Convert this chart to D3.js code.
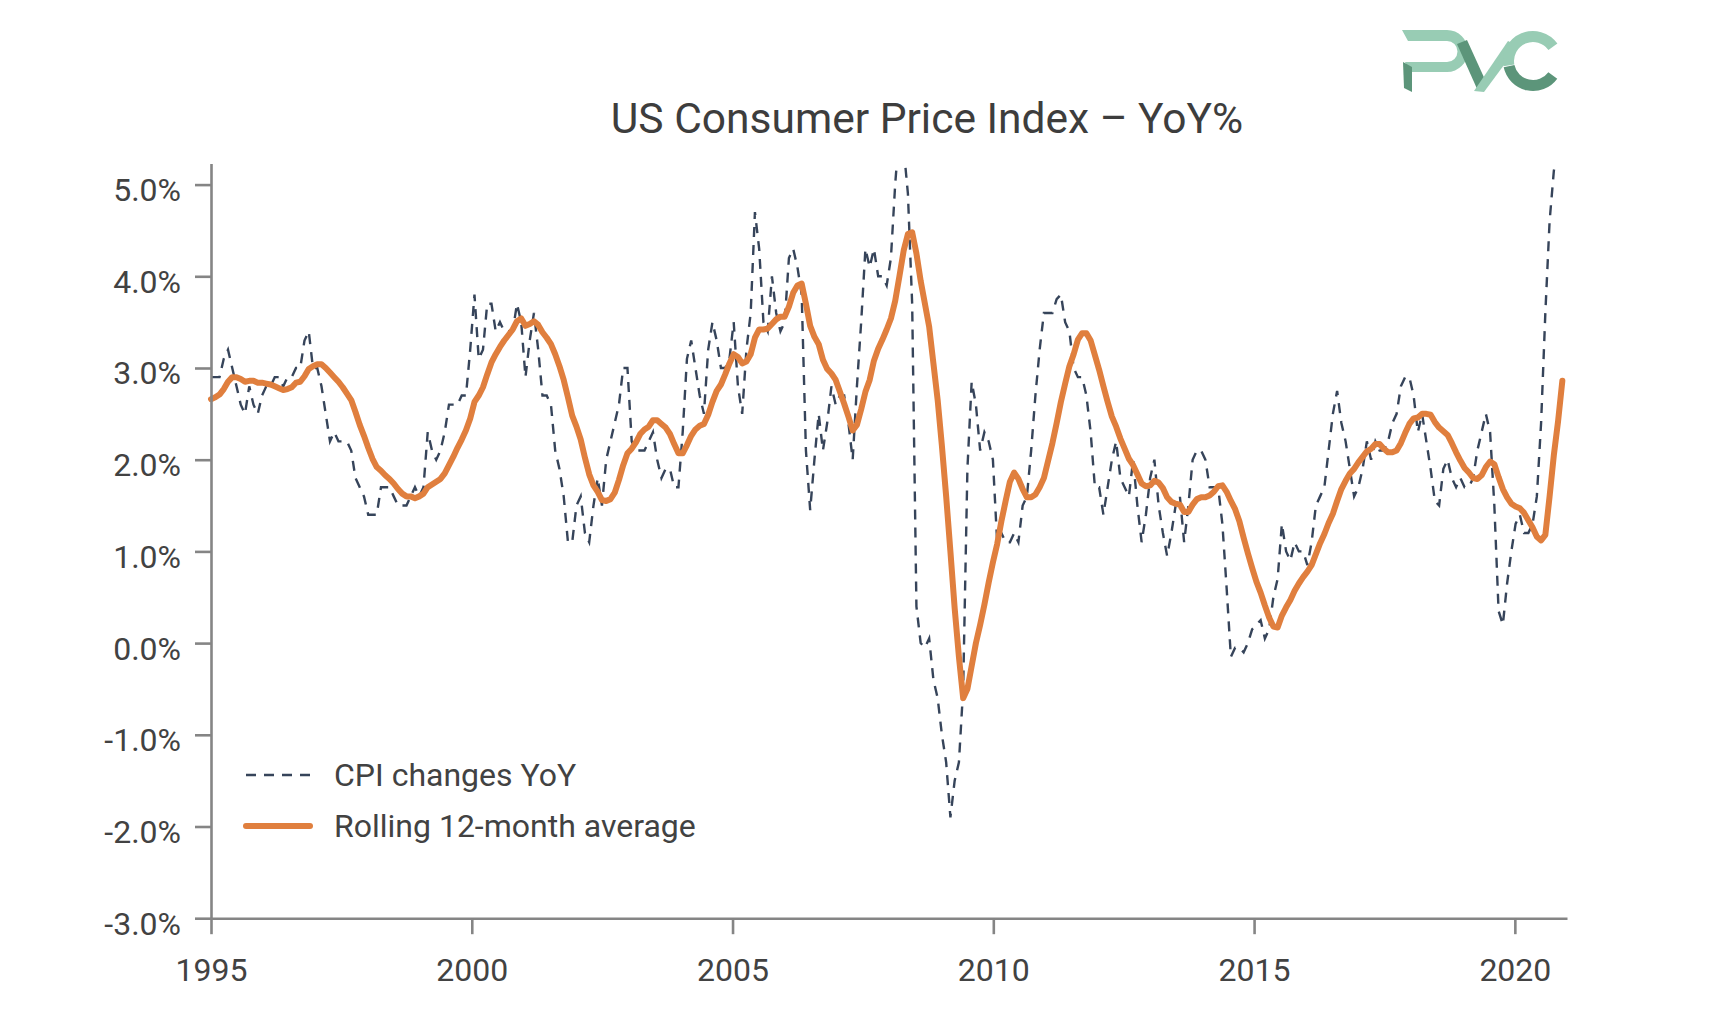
<!DOCTYPE html>
<html><head><meta charset="utf-8">
<script src="https://cdn.jsdelivr.net/npm/d3@7"></script>
<style>
body{margin:0;background:#fff}
text{font-family:Roboto,"Noto Sans",sans-serif}
</style>
</head><body>
<svg id="chart" width="1724" height="1022"></svg>
<script>
// ---------------- data ----------------
const xTickYears = [1995, 2000, 2005, 2010, 2015, 2020];
const yTickValues = [-3, -2, -1, 0, 1, 2, 3, 4, 5];
const seriesNames = ["CPI changes YoY", "Rolling 12-month average"];
const titleText = "US Consumer Price Index \u2013 YoY%";
const firstYear = 1995;          // first monthly point (Jan 1995)
const monthStep = 0.08148;       // spacing of monthly points on the source's year axis

// CPI YoY %, monthly, Jan 1995 - Jul 2021
const cpiYoY = [
  2.9, 2.9, 2.9, 3.1, 3.2, 3.0, 2.8, 2.6, 2.5, 2.8, 2.6, 2.5,
  2.7, 2.8, 2.8, 2.9, 2.9, 2.8, 2.9, 2.9, 3.0, 3.0, 3.3, 3.4,
  3.0, 3.0, 2.8, 2.5, 2.2, 2.3, 2.2, 2.2, 2.2, 2.1, 1.8, 1.7,
  1.6, 1.4, 1.4, 1.4, 1.7, 1.7, 1.7, 1.6, 1.5, 1.5, 1.5, 1.6,
  1.7, 1.6, 1.7, 2.3, 2.1, 2.0, 2.1, 2.3, 2.6, 2.6, 2.6, 2.7,
  2.7, 3.2, 3.8, 3.1, 3.2, 3.7, 3.7, 3.4, 3.5, 3.4, 3.4, 3.4,
  3.7, 3.5, 2.9, 3.3, 3.6, 3.2, 2.7, 2.7, 2.6, 2.1, 1.9, 1.6,
  1.1, 1.1, 1.5, 1.6, 1.2, 1.1, 1.5, 1.8, 1.5, 2.0, 2.2, 2.4,
  2.6, 3.0, 3.0, 2.2, 2.1, 2.1, 2.1, 2.2, 2.3, 2.0, 1.8, 1.9,
  1.9, 1.7, 1.7, 2.3, 3.1, 3.3, 3.0, 2.7, 2.5, 3.2, 3.5, 3.3,
  3.0, 3.0, 3.1, 3.5, 2.8, 2.5, 3.2, 3.6, 4.7, 4.3, 3.5, 3.4,
  4.0, 3.6, 3.4, 3.5, 4.2, 4.3, 4.1, 3.8, 2.1, 1.45, 2.0, 2.5,
  2.1, 2.4, 2.8, 2.6, 2.7, 2.7, 2.4, 2.0, 2.8, 3.5, 4.3, 4.1,
  4.3, 4.0, 4.0, 3.9, 4.2, 5.0, 5.6, 5.4, 4.9, 3.7, 0.4, 0.0,
  -0.05, 0.05, -0.4, -0.6, -1.0, -1.3, -1.9, -1.5, -1.3, -0.5, 1.9, 2.85,
  2.6, 2.1, 2.3, 2.2, 2.0, 1.1, 1.2, 1.1, 1.1, 1.2, 1.1, 1.5,
  1.6, 2.1, 2.7, 3.2, 3.6, 3.6, 3.6, 3.75, 3.8, 3.5, 3.4, 3.0,
  2.9, 2.9, 2.7, 2.3, 1.7, 1.7, 1.4, 1.7, 2.0, 2.2, 1.8, 1.7,
  1.6, 2.0, 1.5, 1.1, 1.4, 1.8, 2.0, 1.5, 1.2, 0.95, 1.2, 1.5,
  1.6, 1.1, 1.5, 2.0, 2.1, 2.1, 2.0, 1.7, 1.7, 1.7, 1.3, 0.6,
  -0.15, -0.05, -0.05, -0.1, 0.0, 0.15, 0.2, 0.25, 0.05, 0.15, 0.5, 0.7,
  1.3, 1.0, 0.9, 1.1, 1.0, 1.0, 0.85, 1.1, 1.5, 1.6, 1.7, 2.1,
  2.5, 2.75, 2.4, 2.2, 1.9, 1.6, 1.7, 1.9, 2.2, 2.0, 2.2, 2.1,
  2.1, 2.2, 2.4, 2.5, 2.8, 2.9, 2.9, 2.7, 2.3, 2.5, 2.2, 1.9,
  1.55, 1.5, 1.9, 2.0, 1.8, 1.7, 1.8, 1.7, 1.7, 1.8, 2.1, 2.3,
  2.5, 2.3, 1.5, 0.35, 0.2, 0.65, 1.0, 1.3, 1.4, 1.2, 1.2, 1.3,
  1.6, 2.4, 3.6, 4.6, 5.15, 5.4, 5.4
];

// Rolling 12-month average %, monthly, Jan 1995 - Jul 2021
const rolling12 = [
  2.66, 2.68, 2.71, 2.77, 2.85, 2.90, 2.90, 2.88, 2.85, 2.86, 2.86, 2.84,
  2.84, 2.83, 2.82, 2.80, 2.78, 2.76, 2.77, 2.79, 2.84, 2.85, 2.91, 2.99,
  3.02, 3.04, 3.04, 3.00, 2.95, 2.90, 2.85, 2.79, 2.72, 2.65, 2.52, 2.38,
  2.26, 2.13, 2.01, 1.92, 1.88, 1.83, 1.79, 1.74, 1.68, 1.63, 1.60, 1.60,
  1.58, 1.60, 1.63, 1.70, 1.73, 1.76, 1.79, 1.85, 1.94, 2.03, 2.13, 2.22,
  2.32, 2.45, 2.63, 2.70, 2.79, 2.93, 3.06, 3.15, 3.23, 3.30, 3.36, 3.42,
  3.51, 3.54, 3.46, 3.48, 3.51, 3.47, 3.39, 3.33, 3.26, 3.15, 3.02, 2.87,
  2.68, 2.48, 2.36, 2.22, 2.02, 1.84, 1.72, 1.65, 1.56, 1.55, 1.57, 1.64,
  1.78, 1.94, 2.07, 2.12, 2.19, 2.28, 2.33, 2.36, 2.43, 2.43, 2.39, 2.35,
  2.28, 2.17, 2.07, 2.07, 2.16, 2.26, 2.33, 2.37, 2.39, 2.49, 2.63, 2.75,
  2.82, 2.93, 3.05, 3.15, 3.12, 3.05, 3.07, 3.15, 3.33, 3.42, 3.42, 3.43,
  3.48, 3.53, 3.56, 3.56, 3.67, 3.82, 3.90, 3.92, 3.70, 3.46, 3.34, 3.26,
  3.09, 2.99, 2.94, 2.87, 2.74, 2.61, 2.47, 2.32, 2.38, 2.55, 2.74, 2.87,
  3.08, 3.21, 3.31, 3.42, 3.54, 3.73, 4.00, 4.28, 4.46, 4.48, 4.25, 3.95,
  3.70, 3.45, 3.05, 2.65, 2.15, 1.60, 1.00, 0.38, -0.15, -0.60, -0.50, -0.25,
  0.00, 0.20, 0.42, 0.66, 0.88, 1.08, 1.33, 1.55, 1.76, 1.86, 1.79, 1.68,
  1.59, 1.59, 1.62, 1.70, 1.80, 1.99, 2.18, 2.40, 2.63, 2.83, 3.02, 3.15,
  3.31, 3.38, 3.38, 3.30, 3.14, 2.98, 2.80, 2.63, 2.47, 2.36, 2.23, 2.12,
  2.01, 1.94, 1.84, 1.74, 1.71, 1.72, 1.77, 1.75, 1.69, 1.59, 1.54, 1.52,
  1.51, 1.43, 1.43, 1.51, 1.57, 1.59, 1.59, 1.61, 1.65, 1.71, 1.72, 1.65,
  1.55, 1.46, 1.33, 1.15, 0.98, 0.82, 0.67, 0.55, 0.41, 0.28, 0.18, 0.17,
  0.30, 0.39, 0.47, 0.57, 0.65, 0.72, 0.78, 0.85, 0.97, 1.09, 1.19, 1.31,
  1.41, 1.55, 1.68, 1.77, 1.85, 1.90, 1.97, 2.03, 2.09, 2.12, 2.17, 2.17,
  2.12, 2.08, 2.08, 2.10, 2.18, 2.29, 2.39, 2.45, 2.46, 2.50, 2.50, 2.49,
  2.41, 2.35, 2.31, 2.27, 2.18, 2.08, 1.99, 1.91, 1.86, 1.80, 1.79, 1.83,
  1.92, 1.98, 1.95, 1.81, 1.68, 1.59, 1.52, 1.49, 1.47, 1.42, 1.34, 1.26,
  1.16, 1.12, 1.18, 1.60, 2.05, 2.42, 2.86
];

// ---------------- chart ----------------
const svg = d3.select("#chart");
const W = 1724, H = 1022;
const margin = {left: 211, right: W - 1567, top: 163.5, bottom: H - 918.2};

const x = d3.scaleLinear().domain([1995, 2021]).range([margin.left, W - margin.right]);
const y = d3.scaleLinear().domain([-3, 5.23]).range([H - margin.bottom, margin.top]);

const colDash = "#36445a", colOrange = "#e07f3e", colAxis = "#858585", colText = "#424242";

svg.append("defs").append("clipPath").attr("id", "plotclip")
  .append("rect")
  .attr("x", x.range()[0] - 5).attr("y", y.range()[1])
  .attr("width", x.range()[1] - x.range()[0] + 10)
  .attr("height", y.range()[0] - y.range()[1]);

const tOf = i => firstYear + i * monthStep;
const line = d3.line().x((d, i) => x(tOf(i))).y(d => y(d));

const g = svg.append("g").attr("clip-path", "url(#plotclip)");
g.append("path").datum(cpiYoY)
  .attr("d", line).attr("fill", "none")
  .attr("stroke", colDash).attr("stroke-width", 2.4)
  .attr("stroke-dasharray", "10,8");
g.append("path").datum(rolling12)
  .attr("d", line).attr("fill", "none")
  .attr("stroke", colOrange).attr("stroke-width", 6)
  .attr("stroke-linejoin", "round").attr("stroke-linecap", "round");

// axes
const yAxis = d3.axisLeft(y).tickValues(yTickValues).tickSize(16).tickSizeOuter(0).tickPadding(14)
  .tickFormat(d => d.toFixed(1) + "%");
const xAxis = d3.axisBottom(x).tickValues(xTickYears).tickSize(16).tickSizeOuter(0).tickPadding(24)
  .tickFormat(d3.format("d"));

const gy = svg.append("g").attr("transform", `translate(${x.range()[0]},0)`).call(yAxis);
const gx = svg.append("g").attr("transform", `translate(0,${y.range()[0]})`).call(xAxis);
[gx, gy].forEach(a => {
  a.select(".domain").attr("stroke", colAxis).attr("stroke-width", 2.6);
  a.selectAll(".tick line").attr("stroke", colAxis).attr("stroke-width", 2.6);
  a.selectAll(".tick text").attr("fill", colText)
    .style("font-family", "Roboto, 'Noto Sans', sans-serif").style("font-size", "32px");
});
gy.selectAll(".tick text").attr("dy", "0.5em");

// title
svg.append("text").attr("x", 927).attr("y", 133).attr("text-anchor", "middle")
  .attr("fill", "#3d3d3d").style("font-size", "42.5px").text(titleText);

// legend
const leg = svg.append("g");
const legRows = [
  {name: seriesNames[0], y: 775, dash: "10,8", w: 2.4, c: colDash},
  {name: seriesNames[1], y: 826, dash: null, w: 6, c: colOrange}
];
legRows.forEach(r => {
  leg.append("line").attr("x1", 246).attr("x2", 310).attr("y1", r.y).attr("y2", r.y)
    .attr("stroke", r.c).attr("stroke-width", r.w)
    .attr("stroke-dasharray", r.dash).attr("stroke-linecap", r.dash ? "butt" : "round");
  leg.append("text").attr("x", 334).attr("y", r.y + 11).attr("fill", colText)
    .style("font-size", "32px").text(r.name);
});

// logo (PVC mark)
const logo = svg.append("g");
const light = "#98ccb4", dark = "#5c957a";
// P bowl
logo.append("path").attr("fill", light)
  .attr("d", "M1402,30 L1447,30 A21,21 0 0 1 1447,72 L1409,72 L1405,62 L1447,62 A10.5,10.5 0 0 0 1447,41 L1408,41 Z");
// P stem
logo.append("path").attr("fill", dark)
  .attr("d", "M1403,62 L1412,67 L1412,92 L1404,88 Z");
// V
logo.append("path").attr("fill", dark)
  .attr("d", "M1457,44 L1467,40 L1487,84 L1478,91 Z");
logo.append("path").attr("fill", light)
  .attr("d", "M1474,91 L1484,92 L1518,46 L1508,41 Z");
// C
const arc = d3.arc().innerRadius(19).outerRadius(30);
logo.append("path").attr("fill", light).attr("transform", "translate(1533,61)")
  .attr("d", arc({startAngle: -1.75, endAngle: 0.95}));
logo.append("path").attr("fill", dark).attr("transform", "translate(1533,61)")
  .attr("d", arc({startAngle: 2.2, endAngle: 4.5}));
</script>
</body></html>
